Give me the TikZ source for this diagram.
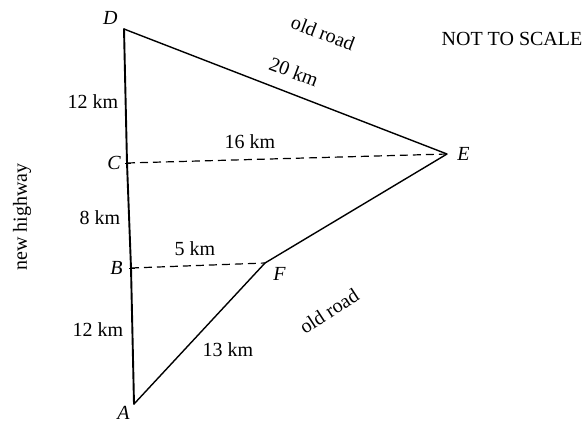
\documentclass[tikz,border=0pt]{standalone}
\usepackage{fontspec}
\setmainfont{Liberation Serif}
\usetikzlibrary{positioning}
\tikzset{
  hwy/.style={line width=.95pt,line cap=round},
  road/.style={line width=.7pt,line cap=round,line join=round},
  dsh/.style={line width=.6pt,dash pattern=on 4pt off 2.5pt},
  tck/.style={line width=.5pt},
  lbl/.style={font=\fontsize{10}{12}\selectfont,inner sep=1pt},
  ptl/.style={font=\fontsize{10}{12}\selectfont\itshape,inner sep=1pt},
}

\begin{document}
\begin{tikzpicture}[x=.5pt,y=-.5pt]
  \useasboundingbox (0,0) rectangle (588,424);
  % corner points
  \coordinate (D) at (124,29);
  \coordinate (C) at (127,163);
  \coordinate (B) at (131,268);
  \coordinate (A) at (134,404);
  \coordinate (E) at (447,154);
  \coordinate (F) at (265,263);
  % roads
  \draw[hwy] (D) -- (C) -- (B) -- (A);
  \draw[road] (D) -- (E) -- (F) -- (A);
  \draw[dsh] (C) -- (E);
  \draw[dsh] (B) -- (F);
  \draw[tck] (C) ++(-2,0) -- ++(6,0);
  \draw[tck] (B) ++(-2,0) -- ++(6,0);
  % point labels
  \node[ptl] (lD) [above left=1pt and 2pt of D] {D};
  \node[ptl] (lC) [left=2pt of C] {C};
  \node[ptl] (lB) [left=3pt of B] {B};
  \node[ptl] (lA) [below left=0pt and 1pt of A] {A};
  \node[ptl] (lE) [right=4pt of E] {E};
  \node[ptl] (lF) [below right=1pt and 3pt of F] {F};
  % lengths
  \node[lbl] (dc) at (93,102)  {12 km};
  \node[lbl] (cb) at (100,218) {8 km};
  \node[lbl] (ba) at (98,330)  {12 km};
  \node[lbl] (bf) at (195,249) {5 km};
  \node[lbl] (ce) at (250,142) {16 km};
  \node[lbl,rotate=-21] (de) at (294,72) {20 km};
  \node[lbl] (fa) at (228,350) {13 km};
  % road names
  \node[lbl,rotate=-21] (oldtop) at (323,33)  {old road};
  \node[lbl,rotate=33]  (oldbot) at (329,311) {old road};
  \node[lbl,rotate=90]  (newhwy) at (22,217)  {new highway};
  \node[lbl] (nts) at (512,39) {NOT TO SCALE};
\end{tikzpicture}
\end{document}
